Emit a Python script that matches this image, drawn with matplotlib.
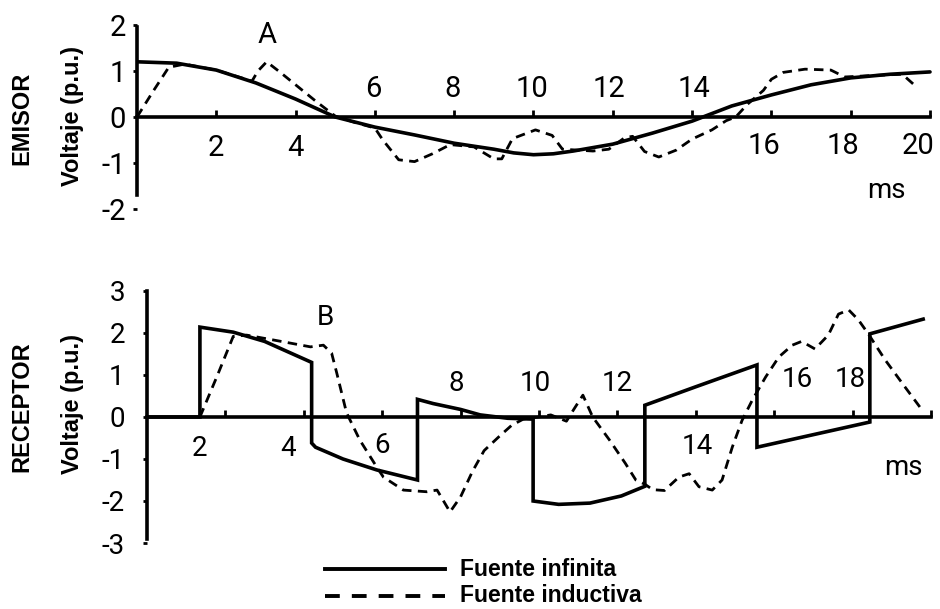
import matplotlib.pyplot as plt
from matplotlib.lines import Line2D

# EMISOR: voltaje (p.u.) vs tiempo (ms)
emi_t_inf = [0, 1, 2, 3, 4, 5, 6, 7, 8, 9, 9.5, 10, 10.5, 11, 12, 13, 14, 15, 16,
             17, 18, 19, 20]
emi_inf = [1.2, 1.17, 1.02, 0.74, 0.39, 0.0, -0.22, -0.39, -0.57, -0.7, -0.78,
           -0.82, -0.8, -0.74, -0.59, -0.35, -0.09, 0.24, 0.48, 0.7, 0.85, 0.93,
           0.98]

emi_t_ind = [0, 0.4, 0.8, 1.2, 2.0, 2.9, 3.05, 3.27, 3.6, 4.0, 4.5, 5.0, 5.5, 6.0,
             6.2, 6.6, 7.0, 7.45, 7.9, 8.5, 9.0, 9.2, 9.47, 10.05, 10.47, 10.73,
             11.5, 11.9, 12.3, 12.5, 12.8, 13.16, 13.6, 14.0, 14.5, 14.86, 15.1,
             15.4, 15.8, 16.0, 16.3, 16.85, 17.5, 17.85, 18.5, 19.3, 19.6]
emi_ind = [0.0, 0.55, 1.08, 1.15, 1.02, 0.78, 1.0, 1.2, 0.98, 0.7, 0.35, 0.02,
           -0.12, -0.24, -0.5, -0.93, -0.97, -0.8, -0.6, -0.65, -0.91, -0.91,
           -0.47, -0.28, -0.4, -0.7, -0.74, -0.7, -0.45, -0.42, -0.75, -0.87,
           -0.72, -0.48, -0.28, -0.08, 0.0, 0.28, 0.58, 0.82, 0.97, 1.04, 1.02,
           0.87, 0.9, 0.93, 0.7]

# RECEPTOR
rec_t_inf = [0, 1.35, 1.35, 2.2, 3.0, 3.6, 4.2, 4.2, 4.3, 5.0, 5.86, 6.9, 6.9, 7.3,
             8.0, 8.5, 9.2, 9.85, 9.85, 10.5, 11.3, 12.1, 12.7, 12.7, 14.0, 15.56,
             15.56, 17.0, 18.44, 18.44, 19.8]
rec_inf = [0, 0, 2.14, 2.02, 1.8, 1.55, 1.3, -0.62, -0.72, -1.0, -1.26, -1.5, 0.42,
           0.32, 0.18, 0.05, -0.03, -0.05, -2.0, -2.08, -2.05, -1.88, -1.65, 0.28,
           0.72, 1.24, -0.72, -0.42, -0.12, 1.98, 2.33]

rec_t_ind = [1.35, 1.8, 2.2, 2.54, 3.48, 4.17, 4.5, 4.71, 4.84, 5.09, 5.43, 5.86,
             6.03, 6.54, 7.14, 7.4, 7.73, 8.0, 8.3, 8.6, 9.0, 9.3, 9.6, 10.0, 10.3,
             10.7, 10.9, 11.12, 11.37, 11.8, 12.2, 12.47, 12.7, 12.9, 13.2, 13.57,
             13.83, 14.08, 14.42, 14.67, 14.93, 15.18, 15.44, 15.78, 16.12, 16.46,
             16.7, 17.04, 17.38, 17.64, 17.9, 18.15, 18.4, 18.83, 19.34, 19.77]
rec_ind = [0.0, 1.0, 1.92, 1.95, 1.79, 1.67, 1.71, 1.52, 1.05, 0.1, -0.55, -1.19,
           -1.43, -1.74, -1.78, -1.74, -2.26, -1.9, -1.3, -0.8, -0.45, -0.2, -0.05,
           0.0, 0.05, -0.1, 0.2, 0.52, 0.0, -0.55, -1.1, -1.5, -1.6, -1.73, -1.75,
           -1.43, -1.35, -1.66, -1.74, -1.5, -0.72, -0.08, 0.4, 0.95, 1.43, 1.71,
           1.8, 1.62, 1.95, 2.45, 2.55, 2.31, 1.98, 1.36, 0.71, 0.17]

emi_yticks = [-2, -1, 0, 1, 2]
rec_yticks = [-3, -2, -1, 0, 1, 2, 3]

# x labels: (text, x, y) placed alternately above / below the time axis
emi_xlbl = [("2", 2, -0.68), ("4", 4, -0.68), ("6", 5.95, 0.6), ("8", 7.96, 0.6),
            ("10", 9.95, 0.6), ("12", 11.9, 0.6), ("14", 14.05, 0.6),
            ("16", 15.8, -0.62), ("18", 17.8, -0.62), ("20", 19.7, -0.62)]
rec_xlbl = [("2", 1.35, -0.74), ("4", 3.6, -0.74), ("6", 6.0, -0.67),
            ("8", 7.9, 0.8), ("10", 9.9, 0.8), ("12", 12.0, 0.8),
            ("14", 14.03, -0.71), ("16", 16.6, 0.9), ("18", 17.93, 0.9)]

W, H = 940, 609
NUM = dict(family=["Roboto", "Liberation Sans", "DejaVu Sans"])
BOLD = ["Liberation Sans", "DejaVu Sans"]
LW = 2.6
DASH = (0, (3.4, 2.3))

fig = plt.figure(figsize=(9.4, 6.09), dpi=100)


def make_axes(x0, zero_y, px_ms, px_unit, ymax):
    left = x0 / W
    width = 20.4 * px_ms / W
    top = zero_y - ymax * px_unit
    bottom = zero_y + ymax * px_unit
    ax = fig.add_axes([left, 1 - bottom / H, width, (bottom - top) / H])
    ax.set_xlim(0, 20.4)
    ax.set_ylim(-ymax, ymax)
    ax.patch.set_visible(False)
    for s in ("top", "right"):
        ax.spines[s].set_visible(False)
    ax.spines["bottom"].set_position(("data", 0))
    ax.spines["bottom"].set_bounds(0, 20)
    for s in ("left", "bottom"):
        ax.spines[s].set_linewidth(LW)
    ax.set_xticks(range(2, 21, 2))
    ax.set_xticklabels([])
    ax.tick_params(axis="x", direction="in", length=5, width=2)
    return ax


def style_y(ax, ticks, pad, size):
    ax.set_yticks(ticks)
    ax.set_yticklabels([str(v) for v in ticks], fontsize=size, **NUM)
    ax.tick_params(axis="y", direction="out", length=3, width=2, pad=pad)


# top panel
ax1 = make_axes(137, 117, 39.65, 46, 2.2)
ax1.spines["left"].set_bounds(-1.7, 1.95)
style_y(ax1, emi_yticks, 5, 21)
ax1.plot(emi_t_inf, emi_inf, color="black", lw=LW, solid_capstyle="round")
ax1.plot(emi_t_ind, emi_ind, color="black", lw=2.0, linestyle=DASH)
for txt, x, y in emi_xlbl:
    ax1.text(x, y, txt, fontsize=21, ha="center", va="center", **NUM)
ax1.text(3.27, 1.78, "A", fontsize=21, ha="center", va="center", **NUM)
ax1.text(18.9, -1.6, "ms", fontsize=20, ha="center", va="center", **NUM)

# bottom panel
ax2 = make_axes(147, 417, 39.2, 42, 3.2)
ax2.spines["left"].set_bounds(-2.9, 3.0)
style_y(ax2, rec_yticks, 13, 20)
ax2.plot(rec_t_inf, rec_inf, color="black", lw=LW, solid_joinstyle="miter")
ax2.plot(rec_t_ind, rec_ind, color="black", lw=2.0, linestyle=DASH)
for txt, x, y in rec_xlbl:
    ax2.text(x, y, txt, fontsize=20, ha="center", va="center", **NUM)
ax2.text(4.54, 2.36, "B", fontsize=20, ha="center", va="center", **NUM)
ax2.text(19.3, -1.2, "ms", fontsize=20, ha="center", va="center", **NUM)

# side titles
for label, px, py in [("EMISOR", 22, 118), ("RECEPTOR", 22, 407)]:
    fig.text(px / W, 1 - py / H, label, rotation=90, fontsize=17,
             fontweight="bold", family=BOLD, ha="center", va="center")
for py in (116, 404):
    fig.text(73 / W, 1 - py / H, "Voltaje (p.u.)", rotation=90, fontsize=17,
             fontweight="bold", family=BOLD, ha="center", va="center")

# legend
fig.add_artist(Line2D([325 / W, 445 / W], [1 - 569 / H] * 2, color="black", lw=2.8))
fig.add_artist(Line2D([325 / W, 445 / W], [1 - 596 / H] * 2, color="black", lw=2.8,
                      linestyle=(0, (3.8, 3.1))))
fig.text(460 / W, 1 - 569 / H, "Fuente infinita", fontsize=16.5, fontweight="bold",
         family=BOLD, va="center")
fig.text(460 / W, 1 - 596 / H, "Fuente inductiva", fontsize=16.5, fontweight="bold",
         family=BOLD, va="center")

fig.savefig("out.png", dpi=100)
